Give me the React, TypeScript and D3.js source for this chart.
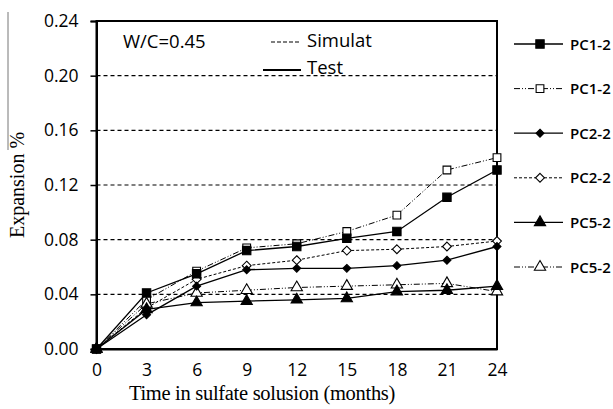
import React, { useEffect, useRef } from 'react';
import * as d3 from 'd3';

const months = [0, 3, 6, 9, 12, 15, 18, 21, 24];
const yTicks = [0, 0.04, 0.08, 0.12, 0.16, 0.2, 0.24];

const pc1Test = [0, 0.041, 0.055, 0.072, 0.075, 0.081, 0.086, 0.111, 0.131];
const pc1Sim = [0, 0.036, 0.057, 0.074, 0.077, 0.086, 0.098, 0.131, 0.14];
const pc2Test = [0, 0.025, 0.046, 0.058, 0.059, 0.059, 0.061, 0.065, 0.075];
const pc2Sim = [0, 0.03, 0.051, 0.061, 0.065, 0.072, 0.073, 0.075, 0.079];
const pc5Test = [0, 0.029, 0.034, 0.035, 0.036, 0.037, 0.042, 0.043, 0.046];
const pc5Sim = [0, 0.033, 0.041, 0.043, 0.045, 0.046, 0.047, 0.048, 0.042];

type Series = { name: string; values: number[]; dash: string | null; marker: string; filled: boolean; size: number };

const series: Series[] = [
  { name: 'PC1-2', values: pc1Test, dash: null, marker: 'square', filled: true, size: 70 },
  { name: 'PC1-2', values: pc1Sim, dash: '6,2,1,2,1,2', marker: 'square', filled: false, size: 60 },
  { name: 'PC2-2', values: pc2Test, dash: null, marker: 'diamond', filled: true, size: 40 },
  { name: 'PC2-2', values: pc2Sim, dash: '3,2', marker: 'diamond', filled: false, size: 50 },
  { name: 'PC5-2', values: pc5Test, dash: null, marker: 'triangle', filled: true, size: 55 },
  { name: 'PC5-2', values: pc5Sim, dash: '6,2,1,2,1,2', marker: 'triangle', filled: false, size: 55 },
];

const symbolOf = (m: string) =>
  m === 'square' ? d3.symbolSquare : m === 'diamond' ? d3.symbolDiamond2 : d3.symbolTriangle;

const W = 613;
const H = 409;

const App = () => {
  const svgRef = useRef<SVGSVGElement | null>(null);

  useEffect(() => {
    const svg = d3.select(svgRef.current);
    svg.selectAll('*').remove();

    const margin = { top: 21, right: 116, bottom: 60, left: 96.5 };
    const x = d3.scaleLinear().domain([0, 24]).range([margin.left, W - margin.right]);
    const y = d3.scaleLinear().domain([0, 0.24]).range([H - margin.bottom, margin.top]);

    // gridlines
    svg.append('g')
      .selectAll('line')
      .data(yTicks.filter(t => t > 0 && t < 0.24))
      .enter()
      .append('line')
      .attr('x1', x(0)).attr('x2', x(24))
      .attr('y1', d => y(d)).attr('y2', d => y(d))
      .attr('stroke', '#000')
      .attr('stroke-width', 1.2)
      .attr('stroke-dasharray', '4,3');

    // frame
    svg.append('rect')
      .attr('x', x(0)).attr('y', y(0.24))
      .attr('width', x(24) - x(0)).attr('height', y(0) - y(0.24))
      .attr('fill', 'none').attr('stroke', '#000').attr('stroke-width', 2);

    // y axis
    const yAxis = d3.axisLeft(y).tickValues(yTicks).tickSize(6).tickFormat(d3.format('.2f'));
    const gy = svg.append('g').attr('transform', `translate(${x(0)},0)`).call(yAxis);
    gy.select('.domain').attr('stroke-width', 2);
    gy.selectAll('line').attr('stroke-width', 1.5);
    gy.selectAll('text')
      .attr('x', -18)
      .style('font-family', 'Open Sans')
      .style('font-size', '17.5px')
      .attr('fill', '#000');

    // x axis
    const xAxis = d3.axisBottom(x).tickValues(months).tickSize(0).tickFormat(d3.format('d'));
    const gx = svg.append('g').attr('transform', `translate(0,${y(0)})`).call(xAxis);
    gx.select('.domain').attr('stroke-width', 2);
    gx.selectAll('text')
      .attr('dy', '1.35em')
      .style('font-family', 'Open Sans')
      .style('font-size', '17.5px')
      .attr('fill', '#000');

    // lines + markers (simulated first, tests on top)
    const line = d3.line<number>().x((_, i) => x(months[i])).y(d => y(d));
    const order = [...series.filter(s => s.dash), ...series.filter(s => !s.dash)];
    order.forEach(s => {
      svg.append('path')
        .datum(s.values)
        .attr('fill', 'none')
        .attr('stroke', '#000')
        .attr('stroke-width', s.dash ? 1 : 1.3)
        .attr('stroke-dasharray', s.dash)
        .attr('d', line);
      svg.append('g')
        .selectAll('path')
        .data(s.values)
        .enter()
        .append('path')
        .attr('transform', (d, i) => `translate(${x(months[i])},${y(d)})`)
        .attr('d', d3.symbol().type(symbolOf(s.marker)).size(s.size)())
        .attr('fill', s.filled ? '#000' : '#fff')
        .attr('stroke', '#000')
        .attr('stroke-width', 1.1);
    });

    // right legend
    const leg = svg.append('g');
    series.forEach((s, i) => {
      const ly = 44 + i * 44.6;
      leg.append('line')
        .attr('x1', 514).attr('x2', 563).attr('y1', ly).attr('y2', ly)
        .attr('stroke', '#000').attr('stroke-width', s.dash ? 1 : 1.3)
        .attr('stroke-dasharray', s.dash);
      leg.append('path')
        .attr('transform', `translate(540,${ly})`)
        .attr('d', d3.symbol().type(symbolOf(s.marker)).size(s.size)())
        .attr('fill', s.filled ? '#000' : '#fff')
        .attr('stroke', '#000').attr('stroke-width', 1.1);
      leg.append('text')
        .attr('x', 570).attr('y', ly + 5.5)
        .style('font-family', 'Open Sans').style('font-size', '15px').style('font-weight', 600)
        .text(s.name);
    });

    // inner notes
    svg.append('text').attr('x', 123).attr('y', 48)
      .style('font-family', 'Open Sans').style('font-size', '18.5px').text('W/C=0.45');
    svg.append('line').attr('x1', 271).attr('x2', 300).attr('y1', 42).attr('y2', 42)
      .attr('stroke', '#000').attr('stroke-width', 1.2).attr('stroke-dasharray', '4,2');
    svg.append('text').attr('x', 307).attr('y', 47)
      .style('font-family', 'Open Sans').style('font-size', '18.5px').text('Simulat');
    svg.append('line').attr('x1', 263).attr('x2', 301).attr('y1', 70).attr('y2', 70)
      .attr('stroke', '#000').attr('stroke-width', 2);
    svg.append('text').attr('x', 307).attr('y', 74)
      .style('font-family', 'Open Sans').style('font-size', '18.5px').text('Test');

    // axis titles
    svg.append('text')
      .attr('x', 262).attr('y', 400)
      .attr('text-anchor', 'middle')
      .style('font-family', 'Liberation Serif').style('font-size', '20.5px')
      .style('letter-spacing', '-0.3px')
      .text('Time in sulfate solusion (months)');
    svg.append('text')
      .attr('transform', 'rotate(-90)')
      .attr('x', -185).attr('y', 24)
      .attr('text-anchor', 'middle')
      .style('font-family', 'Liberation Serif').style('font-size', '20px')
      .text('Expansion %');
    svg.append('line').attr('x1', 8).attr('x2', 8).attr('y1', 12).attr('y2', 150)
      .attr('stroke', '#777').attr('stroke-width', 1);
  }, []);

  return <svg ref={svgRef} width={W} height={H} style={{ position: 'absolute', left: 0, top: 0, background: '#fff' }} />;
};

export default App;
